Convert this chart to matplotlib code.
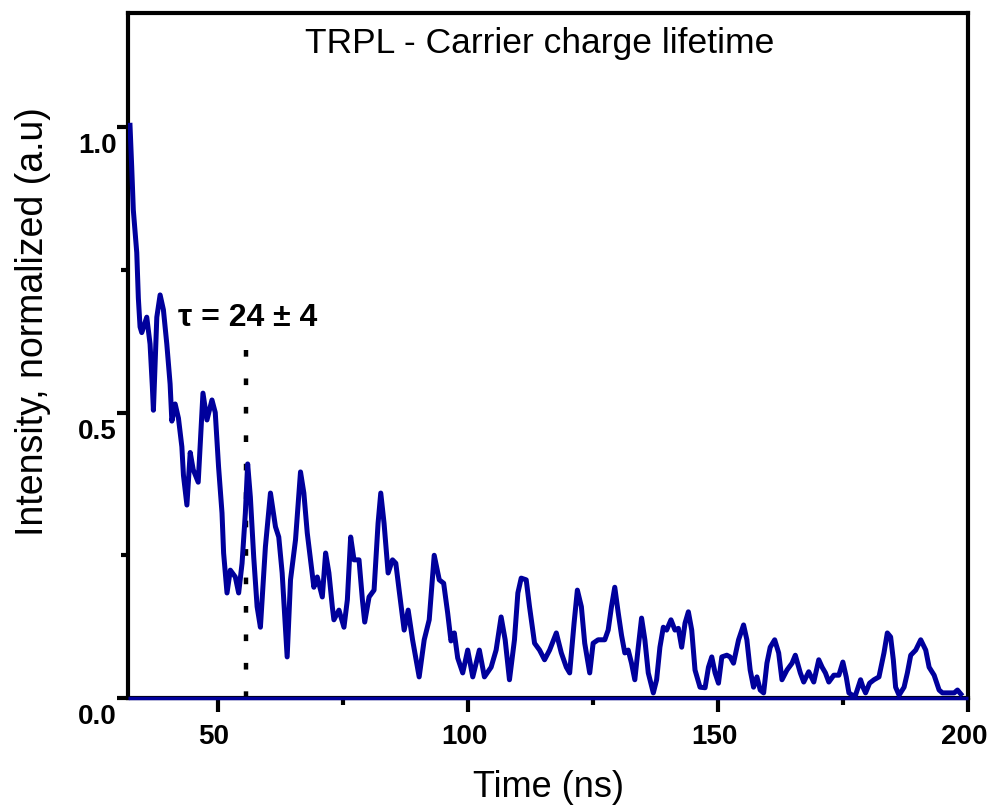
import matplotlib
matplotlib.use('Agg')
import matplotlib.pyplot as plt
import matplotlib.transforms as mtransforms
from matplotlib.ticker import MultipleLocator

plt.rcParams['font.family'] = ['Liberation Sans', 'DejaVu Sans']

# TRPL decay trace (time in ns, intensity normalized)
time_ns = [32.40, 32.74, 33.06, 33.75, 34.07, 34.41, 34.75, 35.75, 36.41, 36.87,
           37.08, 37.76, 38.42, 39.08, 39.76, 40.42, 40.77, 41.43, 42.09, 42.77,
           43.09, 43.78, 44.44, 45.04, 46.04, 46.99, 47.79, 48.79, 49.45, 50.11,
           50.80, 51.12, 51.80, 52.46, 53.46, 54.13, 54.81, 55.47, 55.93, 56.47,
           57.14, 57.82, 58.48, 59.48, 60.49, 61.49, 62.15, 62.83, 63.49, 63.83,
           64.50, 65.50, 66.50, 67.17, 67.85, 68.51, 69.17, 69.85, 70.86, 71.52,
           72.18, 72.86, 73.18, 74.19, 75.19, 75.87, 76.53, 77.20, 78.20, 78.88,
           79.34, 80.21, 81.21, 82.01, 82.55, 83.21, 84.02, 84.90, 85.56, 86.22,
           87.23, 88.03, 88.91, 90.23, 91.24, 92.24, 93.24, 94.25, 95.13, 95.93,
           96.59, 97.26, 97.94, 98.94, 99.94, 100.95, 102.27, 103.28, 104.62, 105.62,
           106.62, 107.43, 108.29, 109.29, 109.97, 110.64, 111.64, 112.30, 113.31, 114.31,
           115.31, 116.32, 117.66, 118.66, 119.66, 120.33, 121.21, 121.87, 122.67, 123.34,
           124.34, 125.02, 126.02, 127.35, 128.03, 128.69, 129.35, 130.03, 130.70, 131.36,
           132.04, 132.70, 133.36, 134.05, 134.71, 135.37, 136.05, 137.06, 137.72, 138.38,
           139.06, 139.72, 140.59, 141.39, 142.07, 142.73, 143.40, 144.07, 144.74, 145.40,
           146.40, 147.41, 148.09, 148.75, 149.41, 150.09, 150.76, 151.76, 152.42, 153.10,
           154.11, 155.11, 155.77, 156.43, 157.11, 157.78, 158.44, 159.12, 159.78, 160.44,
           161.33, 162.13, 162.79, 163.79, 164.80, 165.46, 166.46, 167.14, 168.14, 169.15,
           170.15, 170.82, 171.48, 172.16, 173.16, 174.17, 174.97, 175.64, 176.18, 176.84,
           177.50, 178.51, 178.99, 179.51, 180.31, 181.19, 182.19, 183.19, 183.86, 184.52,
           185.06, 185.52, 186.21, 187.21, 187.87, 188.54, 189.54, 190.54, 191.54, 192.22,
           193.22, 194.22, 194.89, 196.23, 197.23, 197.89, 198.56]
intensity = [1.003, 0.930, 0.855, 0.780, 0.700, 0.650, 0.640, 0.667, 0.620, 0.545,
             0.504, 0.667, 0.706, 0.680, 0.620, 0.550, 0.485, 0.515, 0.490, 0.440,
             0.390, 0.338, 0.430, 0.400, 0.378, 0.534, 0.487, 0.522, 0.500, 0.405,
             0.324, 0.254, 0.184, 0.224, 0.212, 0.184, 0.236, 0.324, 0.410, 0.352,
             0.247, 0.160, 0.124, 0.265, 0.359, 0.300, 0.282, 0.219, 0.124, 0.072,
             0.207, 0.277, 0.396, 0.359, 0.289, 0.242, 0.194, 0.212, 0.177, 0.254,
             0.219, 0.160, 0.137, 0.154, 0.124, 0.172, 0.282, 0.242, 0.242, 0.172,
             0.133, 0.177, 0.189, 0.306, 0.359, 0.306, 0.219, 0.242, 0.236, 0.189,
             0.119, 0.154, 0.102, 0.037, 0.102, 0.137, 0.250, 0.207, 0.201, 0.149,
             0.100, 0.114, 0.070, 0.044, 0.084, 0.037, 0.084, 0.037, 0.054, 0.084,
             0.142, 0.102, 0.032, 0.102, 0.184, 0.210, 0.207, 0.160, 0.096, 0.084,
             0.067, 0.084, 0.114, 0.079, 0.054, 0.044, 0.131, 0.189, 0.160, 0.096,
             0.044, 0.096, 0.102, 0.102, 0.119, 0.160, 0.194, 0.150, 0.110, 0.079,
             0.084, 0.061, 0.032, 0.089, 0.140, 0.102, 0.044, 0.009, 0.032, 0.089,
             0.124, 0.119, 0.137, 0.119, 0.122, 0.089, 0.131, 0.151, 0.119, 0.049,
             0.019, 0.018, 0.054, 0.072, 0.044, 0.026, 0.072, 0.075, 0.072, 0.061,
             0.102, 0.128, 0.102, 0.049, 0.019, 0.037, 0.014, 0.009, 0.061, 0.089,
             0.102, 0.079, 0.032, 0.049, 0.061, 0.075, 0.044, 0.028, 0.046, 0.028,
             0.067, 0.054, 0.044, 0.028, 0.040, 0.040, 0.063, 0.037, 0.009, 0.005,
             0.005, 0.032, 0.019, 0.009, 0.026, 0.032, 0.037, 0.079, 0.114, 0.107,
             0.067, 0.019, 0.005, 0.019, 0.044, 0.075, 0.084, 0.102, 0.084, 0.054,
             0.040, 0.014, 0.009, 0.009, 0.009, 0.014, 0.007]

# flat zero trace along the bottom
baseline_t = [32, 200]
baseline_y = [0, 0]

# lifetime marker
tau_x = 55.5
tau_top = 0.61
tau_label = 'τ = 24 ± 4'

blue = '#00009c'

fig = plt.figure(figsize=(9.9, 8.08), dpi=100)
ax = fig.add_axes([0.1293, 0.1361, 0.8485, 0.848])

ax.plot(baseline_t, baseline_y, color=blue, lw=2.5, solid_capstyle='butt',
        zorder=3, clip_on=False)
ax.plot(time_ns, intensity, color=blue, lw=3.6, zorder=3)
ax.plot([tau_x, tau_x], [0, tau_top], color='black', lw=3.2,
        linestyle=(0, (1.5, 4.9)), zorder=2)
ax.text(42.0, 0.665, tau_label, fontsize=23, fontweight='bold', va='center', ha='left')

ax.text(0.4905, 0.955, 'TRPL - Carrier charge lifetime', transform=ax.transAxes,
        fontsize=25.5, ha='center', va='center')

ax.set_xlim(32, 200)
ax.set_ylim(0, 1.2)
ax.xaxis.set_major_locator(MultipleLocator(50))
ax.xaxis.set_minor_locator(MultipleLocator(25))
ax.yaxis.set_major_locator(MultipleLocator(0.5))
ax.yaxis.set_minor_locator(MultipleLocator(0.25))

for s in ax.spines.values():
    s.set_linewidth(3)
ax.tick_params(which='major', direction='out', length=10, width=3, labelsize=20, pad=9)
ax.tick_params(which='minor', direction='out', length=5, width=3)
ax.tick_params(axis='y', which='major', length=8, pad=0)

for lab in ax.get_xticklabels() + ax.get_yticklabels():
    lab.set_fontweight('bold')

ydown = mtransforms.ScaledTranslation(0, -16 / 100, fig.dpi_scale_trans)
for lab in ax.get_yticklabels():
    lab.set_transform(lab.get_transform() + ydown)
xshift = mtransforms.ScaledTranslation(-4 / 100, 0, fig.dpi_scale_trans)
for lab in ax.get_xticklabels():
    lab.set_transform(lab.get_transform() + xshift)

ax.set_xlabel('Time (ns)', fontsize=26, labelpad=14)
ax.set_ylabel('Intensity, normalized (a.u)', fontsize=27)
ax.yaxis.set_label_coords(-0.092, 0.549)

fig.savefig('out.png', dpi=100)
